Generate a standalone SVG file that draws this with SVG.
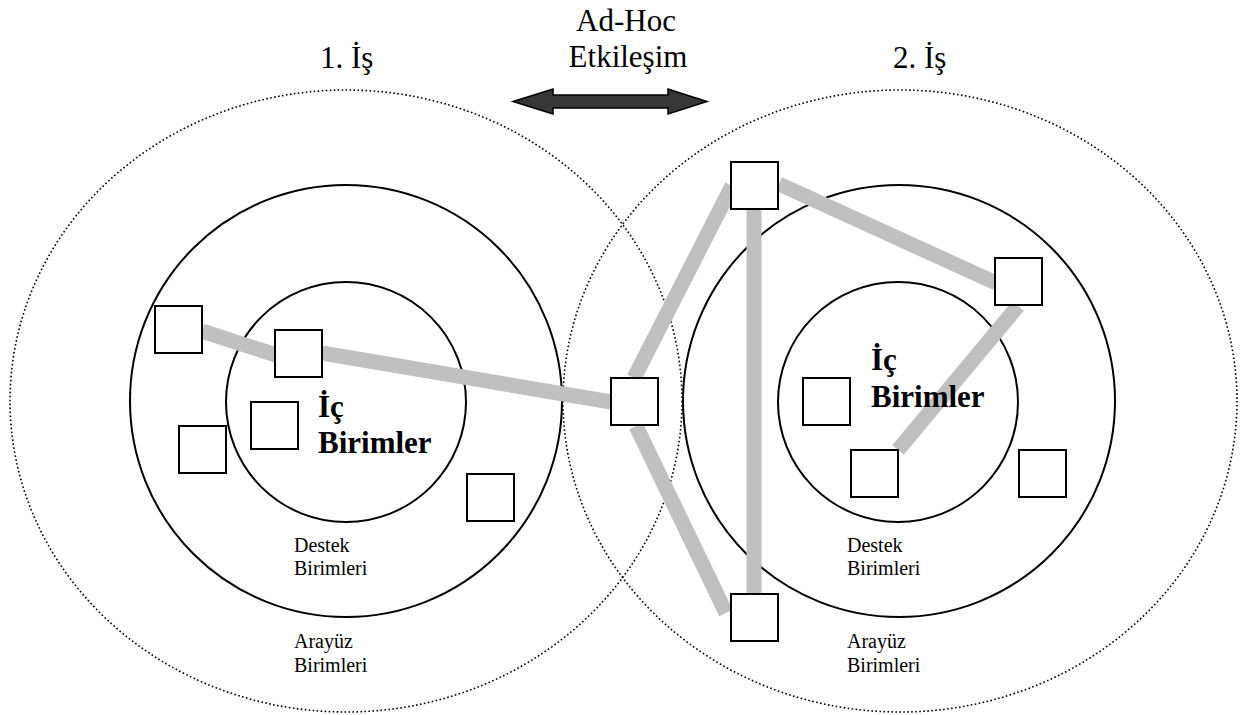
<svg xmlns="http://www.w3.org/2000/svg" width="1249" height="715" viewBox="0 0 1249 715">
<style>
.outer{fill:none;stroke:#000;stroke-width:1.6;stroke-dasharray:1.6 2.4}
.ring{fill:none;stroke:#000;stroke-width:2}
.box{fill:#fff;stroke:#000;stroke-width:2}
.link{stroke:#c0c0c0;stroke-width:15;fill:none;stroke-linecap:butt}
.t{font-family:"Liberation Serif","Times New Roman",serif;fill:#000}
.big{font-size:31px}
.small{font-size:20px}
.bold{font-size:31px;font-weight:bold}
</style>
<rect width="1249" height="715" fill="#fff"/>
<g id="zones">
<ellipse class="outer" cx="346" cy="401" rx="336" ry="311"/>
<ellipse class="outer" cx="900" cy="401" rx="337" ry="311"/>
<circle class="ring" cx="346" cy="401" r="216"/>
<circle class="ring" cx="346" cy="402" r="120"/>
<circle class="ring" cx="899" cy="401" r="216"/>
<circle class="ring" cx="898" cy="402" r="120"/>
</g>
<g id="connectors">
<line class="link" x1="202" y1="331" x2="276" y2="355"/>
<line class="link" x1="322" y1="353" x2="611" y2="402"/>
<line class="link" x1="634" y1="378" x2="732" y2="186"/>
<line class="link" x1="636" y1="426" x2="726" y2="613"/>
<line class="link" x1="754" y1="210" x2="754" y2="594"/>
<line class="link" x1="779" y1="184" x2="996" y2="283"/>
<line class="link" x1="1018" y1="306" x2="898" y2="450"/>
</g>
<g id="n-left-1"><rect class="box" x="155" y="306" width="47" height="47"/></g>
<g id="n-left-2"><rect class="box" x="275" y="330" width="47" height="47"/></g>
<g id="n-left-3"><rect class="box" x="251" y="402" width="47" height="47"/></g>
<g id="n-left-4"><rect class="box" x="179" y="426" width="47" height="47"/></g>
<g id="n-left-5"><rect class="box" x="467" y="474" width="47" height="47"/></g>
<g id="n-mid-1"><rect class="box" x="611" y="378" width="47" height="47"/></g>
<g id="n-mid-top"><rect class="box" x="731" y="162" width="47" height="47"/></g>
<g id="n-mid-bottom"><rect class="box" x="731" y="594" width="47" height="47"/></g>
<g id="n-right-1"><rect class="box" x="995" y="258" width="47" height="47"/></g>
<g id="n-right-2"><rect class="box" x="803" y="378" width="47" height="47"/></g>
<g id="n-right-3"><rect class="box" x="851" y="450" width="47" height="47"/></g>
<g id="n-right-4"><rect class="box" x="1019" y="450" width="47" height="47"/></g>
<g id="arrow">
<polygon points="513,101.5 553,89 553,95 668,95 668,89 707,101.5 668,114 668,108 553,108 553,114" fill="#363636" stroke="#000" stroke-width="1.5" stroke-linejoin="miter"/>
</g>
<g id="labels">
<text class="t big" x="626" y="31" text-anchor="middle">Ad-Hoc</text>
<text class="t big" x="628" y="67" text-anchor="middle">Etkileşim</text>
<text class="t big" x="320" y="68">1. İş</text>
<text class="t big" x="893" y="68">2. İş</text>
<text class="t bold" x="318" y="417">İç</text>
<text class="t bold" x="318" y="453">Birimler</text>
<text class="t bold" x="871" y="370">İç</text>
<text class="t bold" x="871" y="407">Birimler</text>
<text class="t small" x="294" y="552">Destek</text>
<text class="t small" x="294" y="575">Birimleri</text>
<text class="t small" x="294" y="648">Arayüz</text>
<text class="t small" x="294" y="672">Birimleri</text>
<text class="t small" x="847" y="552">Destek</text>
<text class="t small" x="847" y="575">Birimleri</text>
<text class="t small" x="847" y="648">Arayüz</text>
<text class="t small" x="847" y="672">Birimleri</text>
</g>
</svg>
